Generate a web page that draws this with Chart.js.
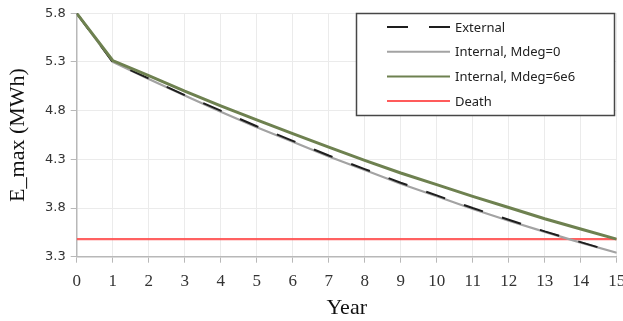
<!DOCTYPE html>
<html>
<head>
<meta charset="utf-8">
<script src="https://cdn.jsdelivr.net/npm/chart.js@4"></script>
<style>
  html, body { margin: 0; padding: 0; background: #fff; }
  #wrap { width: 623px; height: 321px; }
</style>
</head>
<body>
<div id="wrap"><canvas id="EmaxChart"></canvas></div>
<script>
const years = [0, 1, 2, 3, 4, 5, 6, 7, 8, 9, 10, 11, 12, 13, 14, 15];
const external = [5.80, 5.30, 5.13, 4.96, 4.80, 4.64, 4.49, 4.34, 4.20, 4.06, 3.93, 3.80, 3.68, 3.56, 3.45, 3.34];
const internalMdeg0 = [5.80, 5.30, 5.125, 4.955, 4.79, 4.63, 4.48, 4.33, 4.19, 4.05, 3.92, 3.79, 3.67, 3.555, 3.445, 3.34];
const internalMdeg6e6 = [5.80, 5.315, 5.16, 5.00, 4.85, 4.705, 4.565, 4.425, 4.29, 4.16, 4.04, 3.92, 3.805, 3.69, 3.585, 3.48];
const deathLevel = 3.48;
const yTicks = [3.3, 3.8, 4.3, 4.8, 5.3, 5.8];

const toPoints = (vals) => vals.map((v, i) => ({ x: years[i], y: v }));

const legendItems = [
    { label: 'External', color: '#1e1e1e', width: 2, dash: [21, 21] },
    { label: 'Internal, Mdeg=0', color: '#a3a3a3', width: 2, dash: [] },
    { label: 'Internal, Mdeg=6e6', color: '#6e8150', width: 2, dash: [] },
    { label: 'Death', color: '#ff5b5b', width: 2, dash: [] }
];

// boxed legend in the top right corner
const boxLegend = {
    id: 'boxLegend',
    afterDraw(chart) {
        const ctx = chart.ctx;
        ctx.save();
        ctx.fillStyle = '#ffffff';
        ctx.fillRect(356, 13, 259, 103);
        ctx.strokeStyle = '#474747';
        ctx.lineWidth = 1.5;
        ctx.strokeRect(356.5, 13.5, 258, 102);
        ctx.font = '13px "Noto Sans"';
        ctx.textBaseline = 'middle';
        legendItems.forEach((it, i) => {
            const y = 27 + i * 24.7;
            ctx.beginPath();
            ctx.strokeStyle = it.color;
            ctx.lineWidth = it.width;
            ctx.setLineDash(it.dash);
            ctx.moveTo(387, y);
            ctx.lineTo(450, y);
            ctx.stroke();
            ctx.setLineDash([]);
            ctx.fillStyle = '#222';
            ctx.fillText(it.label, 455, y + 1);
        });
        ctx.restore();
    }
};

const data = {
    datasets: [
        {
            label: 'External',
            data: toPoints(external),
            borderColor: '#1e1e1e',
            borderWidth: 2,
            borderDash: [20, 20],
            pointRadius: 0,
            order: 1
        },
        {
            label: 'Internal, Mdeg=0',
            data: toPoints(internalMdeg0),
            borderColor: '#a3a3a3',
            borderWidth: 2.2,
            pointRadius: 0,
            order: 2
        },
        {
            label: 'Internal, Mdeg=6e6',
            data: toPoints(internalMdeg6e6),
            borderColor: '#6e8150',
            borderWidth: 3,
            pointRadius: 0,
            order: 0
        },
        {
            label: 'Death',
            data: [{ x: years[0], y: deathLevel }, { x: years[years.length - 1], y: deathLevel }],
            borderColor: 'rgba(255, 80, 80, 0.9)',
            borderWidth: 2.2,
            pointRadius: 0,
            order: 3
        }
    ]
};

const config = {
    type: 'line',
    data: data,
    options: {
        responsive: true,
        maintainAspectRatio: false,
        animation: false,
        layout: {
            autoPadding: false,
            padding: { left: 5, top: 13.3, right: 6.3, bottom: 0 }
        },
        plugins: {
            legend: { display: false },
            tooltip: { enabled: false }
        },
        scales: {
            x: {
                type: 'linear',
                min: 0,
                max: 15,
                afterFit: (axis) => {
                    axis.height = 64.3;
                    axis.paddingLeft = 0;
                    axis.paddingRight = 0;
                },
                ticks: {
                    stepSize: 1,
                    padding: 9,
                    color: '#333',
                    font: { family: '"Liberation Serif"', size: 17 }
                },
                grid: { color: '#ebebeb', tickColor: '#b8b8b8', tickLength: 6 },
                border: { color: '#b8b8b8', width: 1.5 },
                title: {
                    display: true,
                    text: 'Year',
                    color: '#111',
                    font: { family: '"Liberation Serif"', size: 22, lineHeight: 1 },
                    padding: { top: 5, bottom: 2 }
                }
            },
            y: {
                min: 3.3,
                max: 5.8,
                afterBuildTicks: (axis) => { axis.ticks = yTicks.map(v => ({ value: v })); },
                afterFit: (axis) => {
                    axis.width = 71.7;
                    axis.paddingTop = 0;
                    axis.paddingBottom = 0;
                },
                ticks: {
                    padding: 5,
                    color: '#333',
                    font: { family: '"DejaVu Sans"', size: 13 },
                    callback: (v) => Number(v).toFixed(1)
                },
                grid: { color: '#ebebeb', tickColor: '#b8b8b8', tickLength: 6 },
                border: { color: '#b8b8b8', width: 1.5 },
                title: {
                    display: true,
                    text: 'E_max (MWh)',
                    color: '#111',
                    font: { family: '"Liberation Serif"', size: 22 },
                    padding: { top: 0, bottom: 9 }
                }
            }
        }
    },
    plugins: [boxLegend]
};

const myChart = new Chart(document.getElementById('EmaxChart'), config);
</script>
</body>
</html>
